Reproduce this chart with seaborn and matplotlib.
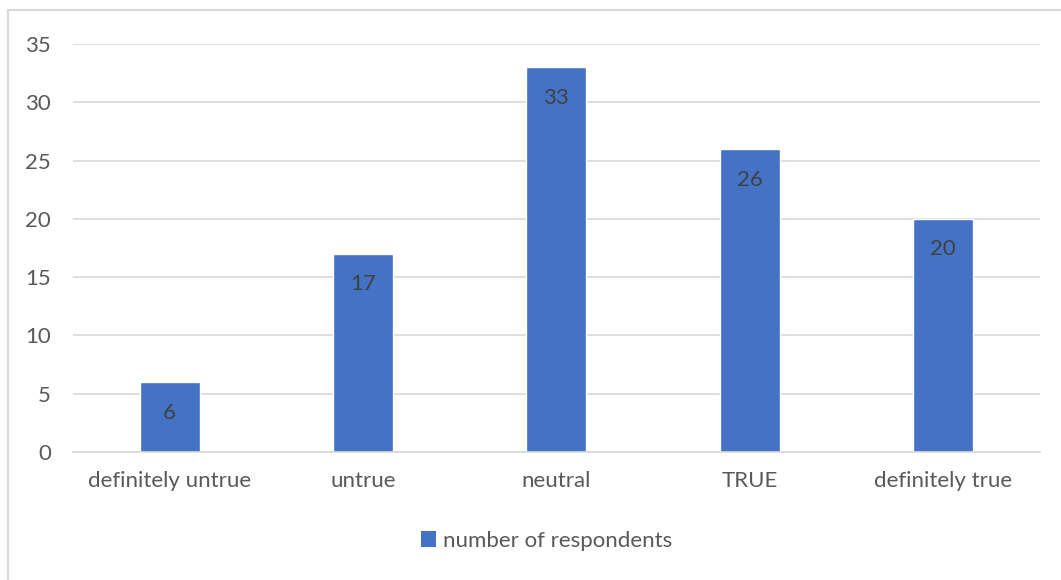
import pandas as pd
import matplotlib.pyplot as plt
import seaborn as sns
from matplotlib.patches import Rectangle, Patch

# --- Data ---
categories = ['definitely untrue', 'untrue', 'neutral', 'TRUE', 'definitely true']
respondents = [6, 17, 33, 26, 20]
series_name = 'number of respondents'

df = pd.DataFrame({'answer': categories, 'count': respondents})

# --- Setup ---
sns.set_theme(style="white")
plt.rcParams['font.family'] = ['Lato', 'DejaVu Sans']
bar_color = '#4472C4'
text_color = '#595959'

fig = plt.figure(figsize=(10.61, 5.80), dpi=100)
ax = fig.add_axes([0.0688, 0.2207, 0.9112, 0.7033])

sns.barplot(data=df, x='answer', y='count', color=bar_color, width=0.31,
            saturation=1, ax=ax)

ax.set_ylim(0, 35)
ax.set_yticks(range(0, 36, 5))
ax.yaxis.grid(True, color='#d9d9d9', linewidth=1.2)
ax.set_axisbelow(True)
for side in ['top', 'right', 'left']:
    ax.spines[side].set_visible(False)
ax.spines['bottom'].set_color('#d9d9d9')
ax.spines['bottom'].set_linewidth(1.2)
ax.tick_params(axis='both', length=0, labelsize=16, colors=text_color)
ax.tick_params(axis='x', pad=14)
ax.tick_params(axis='y', pad=16)
ax.set_xlabel('')
ax.set_ylabel('')

# value labels inside bars
for p, v in zip(ax.patches, respondents):
    ax.annotate(str(v), (p.get_x() + p.get_width() / 2, p.get_height()),
                xytext=(0, -22), textcoords='offset points', ha='center',
                va='center', fontsize=16, color='#404040')

# legend
handle = Patch(facecolor=bar_color, edgecolor='none', label=series_name)
fig.legend(handles=[handle], loc='center', bbox_to_anchor=(0.515, 0.068),
           frameon=False, fontsize=16, labelcolor=text_color,
           handlelength=0.7, handleheight=0.7, handletextpad=0.3)

# chart border
fig.patches.append(Rectangle((8 / 1061, -0.01), 1.1, 1 - 10 / 580 + 0.01,
                             transform=fig.transFigure, fill=False,
                             edgecolor='#d9d9d9', linewidth=1.5))

fig.savefig('out.png', dpi=100)
